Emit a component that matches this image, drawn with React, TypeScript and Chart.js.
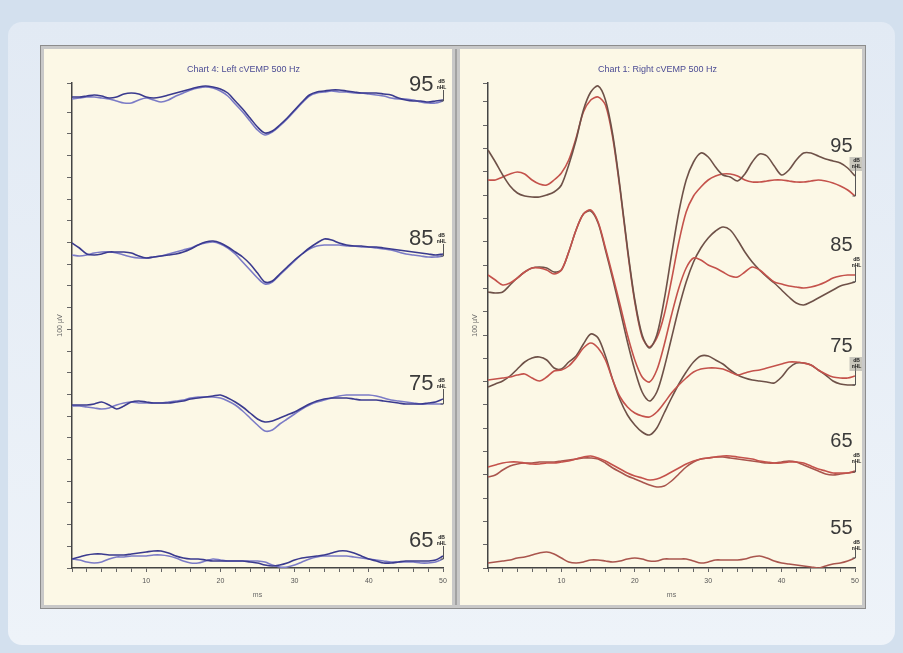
import React, { useEffect, useRef } from 'react';
import { Chart, registerables } from 'chart.js';

Chart.register(...registerables);

const FAMILY = '"Liberation Sans", Arial, sans-serif';

// time axis (ms)
const timeMs = [0,1,2,3,4,5,6,7,8,9,10,11,12,13,14,15,16,17,18,19,20,21,22,23,24,25,26,27,28,29,30,31,32,33,34,35,36,37,38,39,40,41,42,43,44,45,46,47,48,49,50];
const xMajorTicks = [10, 20, 30, 40, 50];

// Left cVEMP 500 Hz (two replicates per level, arbitrary amplitude units incl. stacking offset)
const left95a = [471,471,472,473,472,470,471,474,475,474,471,470,471,473,475,477,479,481,482,481,479,475,467,459,450,441,435,437,443,450,458,466,473,476,477,478,478,477,476,475,475,475,474,473,470,468,467,467,466,467,468];
const left95b = [469,470,471,471,470,469,467,465,465,468,470,468,466,468,472,475,478,480,481,480,477,472,464,456,447,438,433,436,442,449,457,465,472,475,476,477,476,476,475,475,474,473,472,470,469,469,468,466,465,465,467];
const left85a = [325,320,314,313,314,316,316,316,315,312,310,311,312,313,314,316,319,323,326,327,325,321,316,311,304,295,286,287,294,301,308,314,320,325,329,328,325,323,322,322,321,321,320,319,318,317,316,315,314,313,314];
const left85b = [313,312,313,315,316,316,315,313,311,310,310,311,312,314,316,318,320,323,325,326,324,320,314,306,298,290,284,286,293,300,307,314,319,322,323,323,323,322,322,321,321,320,319,318,316,314,313,312,311,311,312];
const left75a = [163,163,163,164,166,163,159,162,166,167,166,165,165,165,166,167,169,170,171,172,173,170,166,161,155,149,146,147,150,153,156,160,164,167,169,170,170,170,169,168,168,168,167,166,165,164,164,164,165,166,169];
const left75b = [162,162,161,160,159,160,163,165,166,165,165,165,165,166,167,168,170,171,171,171,170,167,163,157,150,143,137,138,144,149,154,159,163,166,168,170,172,173,173,173,173,172,170,168,167,166,165,164,164,164,164];
const left65a = [9,11,13,14,14,13,13,13,14,15,16,17,17,15,12,10,9,9,8,7,7,7,7,7,6,5,3,2,3,5,8,10,11,12,13,15,17,17,15,12,9,7,5,5,6,7,7,7,7,8,12];
const left65b = [9,8,6,5,6,9,11,11,12,12,12,13,13,12,10,7,5,5,7,9,8,7,7,7,7,7,6,3,1,1,3,6,9,11,12,12,12,12,11,10,9,8,7,6,6,6,6,5,5,6,9];

// Right cVEMP 500 Hz
const right95a = [418,406,393,382,375,372,371,371,373,376,383,403,428,458,476,482,468,433,380,320,268,233,220,233,268,313,356,388,406,415,411,401,393,391,387,394,406,414,412,402,393,398,408,415,415,412,409,407,405,400,392];
const right95b = [388,388,391,394,396,394,388,384,383,388,395,408,430,456,468,471,463,430,378,318,266,231,221,230,253,288,326,356,372,381,388,392,394,394,392,388,386,386,387,388,388,387,386,386,387,388,387,385,382,378,372];
const right85a = [293,288,283,285,290,296,300,300,298,294,298,316,338,354,358,346,320,292,263,233,208,191,186,198,223,253,280,300,310,308,303,300,296,292,291,296,301,298,292,286,284,282,281,280,281,283,286,290,292,293,293];
const right85b = [276,275,276,283,290,296,300,301,300,296,298,316,338,354,357,345,318,289,258,226,198,176,167,176,200,230,260,286,306,320,330,337,341,338,328,316,306,298,291,285,278,271,265,263,266,270,274,278,282,284,286];
const right75a = [188,189,190,191,193,194,190,187,191,197,198,202,210,220,225,220,208,188,171,161,155,152,151,156,165,175,183,190,196,199,200,200,199,196,193,195,197,198,200,202,204,206,206,205,203,198,194,191,190,190,192];
const right75b = [181,184,187,192,199,206,210,211,208,200,199,206,212,224,234,230,212,188,168,153,143,136,133,140,155,170,184,196,206,212,212,208,204,198,193,190,188,187,186,185,191,200,205,205,203,198,193,187,184,183,183];
const right65a = [101,103,105,106,106,105,104,104,105,105,106,107,109,111,112,110,107,103,99,95,92,90,88,89,92,96,100,104,107,109,110,111,112,112,111,110,109,107,106,105,105,106,106,105,102,99,97,95,95,95,97];
const right65b = [91,93,98,102,104,105,105,106,106,106,107,108,109,110,110,109,105,100,96,92,89,86,83,81,82,87,94,101,106,109,110,111,111,110,109,108,107,106,105,105,106,107,106,103,100,97,94,93,94,95,96];
const right55a = [5,6,7,8,10,11,13,15,16,14,10,6,5,6,8,8,7,6,7,9,10,9,7,7,9,9,9,9,7,5,6,8,8,8,8,9,11,12,10,7,5,4,3,2,1,0,2,4,5,7,10];

const leftLevels = ['95', '85', '75', '65'];
const rightLevels = ['95', '85', '75', '65', '55'];

const BLUE_DARK = '#3a3a8e';
const BLUE_LIGHT = '#7b7bc6';
const RED = '#c4524b';
const DARK = '#6e5148';
const RED2 = '#a9554d';

const leftTraces = [
  { level: '95', values: left95a, color: BLUE_DARK },
  { level: '95', values: left95b, color: BLUE_LIGHT },
  { level: '85', values: left85a, color: BLUE_DARK },
  { level: '85', values: left85b, color: BLUE_LIGHT },
  { level: '75', values: left75a, color: BLUE_DARK },
  { level: '75', values: left75b, color: BLUE_LIGHT },
  { level: '65', values: left65a, color: BLUE_DARK },
  { level: '65', values: left65b, color: BLUE_LIGHT },
];

const rightTraces = [
  { level: '95', values: right95a, color: DARK },
  { level: '95', values: right95b, color: RED },
  { level: '85', values: right85a, color: RED },
  { level: '85', values: right85b, color: DARK },
  { level: '75', values: right75a, color: RED },
  { level: '75', values: right75b, color: DARK },
  { level: '65', values: right65a, color: RED },
  { level: '65', values: right65b, color: RED2 },
  { level: '55', values: right55a, color: RED2 },
];

const levelMarksPlugin = {
  id: 'levelMarks',
  afterDatasetsDraw(chart: any, _args: any, opts: any) {
    const { ctx } = chart;
    const xs = chart.scales.x;
    const ys = chart.scales.y;
    const bx = Math.round(xs.getPixelForValue(timeMs[timeMs.length - 1])) + 0.5;
    opts.levels.forEach((lvl: string) => {
      const ends = chart.data.datasets
        .filter((d: any) => d.level === lvl)
        .map((d: any) => ys.getPixelForValue(d.data[d.data.length - 1].y));
      const top = Math.min(...ends);
      const bottom = Math.max(...ends);
      ctx.save();
      ctx.strokeStyle = '#555';
      ctx.lineWidth = 1;
      ctx.beginPath();
      ctx.moveTo(bx - 3, bottom);
      ctx.lineTo(bx, bottom);
      ctx.lineTo(bx, top - opts.bracketRise);
      ctx.stroke();
      ctx.fillStyle = '#3a3a3a';
      ctx.font = `${opts.numberSize}px ${FAMILY}`;
      ctx.textAlign = 'right';
      ctx.textBaseline = 'middle';
      ctx.fillText(lvl, bx + opts.numberDx, top + opts.numberDy);
      const cx = bx + opts.boxDx;
      const cy = top + opts.boxDy;
      if (opts.boxed.includes(lvl)) {
        ctx.fillStyle = 'rgba(140,140,140,0.45)';
        ctx.fillRect(cx - 7, cy - 7, 14, 14);
      }
      ctx.fillStyle = '#222';
      ctx.font = `bold 5px ${FAMILY}`;
      ctx.textAlign = 'center';
      ctx.fillText('dB', cx, cy - 3);
      ctx.fillText('nHL', cx, cy + 3);
      ctx.restore();
    });
  },
};

function makeConfig(p: any): any {
  return {
    type: 'line',
    data: {
      datasets: p.traces.map((tr: any) => ({
        level: tr.level,
        data: timeMs.map((t, i) => ({ x: t, y: tr.values[i] })),
        borderColor: tr.color,
        borderWidth: 1.6,
        pointRadius: 0,
        tension: 0.3,
        fill: false,
      })),
    },
    options: {
      responsive: false,
      animation: false,
      devicePixelRatio: 1,
      layout: { padding: { left: 0, right: p.padRight, top: 0, bottom: 0 } },
      plugins: {
        legend: { display: false },
        tooltip: { enabled: false },
        title: {
          display: true,
          text: p.title,
          color: '#4c4c94',
          font: { family: FAMILY, size: 9, weight: 'normal', lineHeight: '10px' },
          padding: { top: 16, bottom: 8 },
        },
        levelMarks: p.marks,
      },
      scales: {
        x: {
          type: 'linear',
          min: 0,
          max: 50,
          ticks: {
            stepSize: 2,
            autoSkip: false,
            maxRotation: 0,
            color: '#555',
            padding: 5,
            font: { family: FAMILY, size: 7 },
            callback: (v: number) => (xMajorTicks.includes(v) ? String(v) : ''),
          },
          grid: { drawOnChartArea: false, drawTicks: true, tickLength: 4, color: '#666' },
          border: { color: '#444', width: 1.5 },
          title: {
            display: true,
            text: 'ms',
            color: '#666',
            font: { family: FAMILY, size: 7 },
            padding: { top: 0, bottom: 6 },
          },
          afterFit: (s: any) => {
            s.height = 37;
            s.paddingLeft = 0;
            s.paddingRight = 0;
          },
        },
        y: {
          type: 'linear',
          min: 0,
          max: 485,
          ticks: { display: false, stepSize: p.yStep },
          grid: { drawOnChartArea: false, drawTicks: true, tickLength: 5, color: '#666' },
          border: { color: '#444', width: 1.5 },
          title: {
            display: true,
            text: '100 µV',
            color: '#666',
            font: { family: FAMILY, size: 7 },
            padding: { top: p.yTitlePad, bottom: 0 },
          },
          afterFit: (s: any) => {
            s.width = 28;
            s.paddingTop = 0;
            s.paddingBottom = 0;
          },
        },
      },
    },
    plugins: [levelMarksPlugin],
  };
}

function Panel(props: { spec: any; width: number; height: number }) {
  const ref = useRef<HTMLCanvasElement | null>(null);
  useEffect(() => {
    if (!ref.current) return;
    const chart = new Chart(ref.current, makeConfig(props.spec));
    return () => chart.destroy();
  }, []);
  return <canvas ref={ref} width={props.width} height={props.height} style={{ display: 'block', width: props.width, height: props.height }} />;
}

const leftSpec = {
  title: 'Chart 4: Left cVEMP 500 Hz',
  traces: leftTraces,
  padRight: 9,
  yStep: 21.7,
  yTitlePad: 12,
  marks: { levels: leftLevels, bracketRise: 10, numberSize: 22, numberDx: -10, numberDy: -15, boxDx: -2, boxDy: -15, boxed: [] },
};

const rightSpec = {
  title: 'Chart 1: Right cVEMP 500 Hz',
  traces: rightTraces,
  padRight: 7,
  yStep: 23.3,
  yTitlePad: 11,
  marks: { levels: rightLevels, bracketRise: 8, numberSize: 20, numberDx: -3, numberDy: -30, boxDx: 1, boxDy: -12, boxed: ['95', '75'] },
};

export default function App() {
  return (
    <div style={{ position: 'fixed', left: 0, top: 0, width: 903, height: 653, background: '#d3e0ee', overflow: 'hidden' }}>
      <div style={{ position: 'absolute', left: 8, top: 22, width: 887, height: 623, borderRadius: 14, background: 'linear-gradient(#e2eaf4, #eef3f9)' }} />
      <div style={{ position: 'absolute', left: 40, top: 45, width: 826, height: 564, background: '#c8c8c8', boxSizing: 'border-box', border: '1px solid #8c8c8c' }} />
      <div style={{ position: 'absolute', left: 455, top: 49, width: 2, height: 556, background: '#a2a2a2' }} />
      <div style={{ position: 'absolute', left: 44, top: 49, width: 408, height: 556, background: '#fcf8e6' }}>
        <Panel spec={leftSpec} width={408} height={556} />
      </div>
      <div style={{ position: 'absolute', left: 460, top: 49, width: 402, height: 556, background: '#fcf8e6' }}>
        <Panel spec={rightSpec} width={402} height={556} />
      </div>
    </div>
  );
}
